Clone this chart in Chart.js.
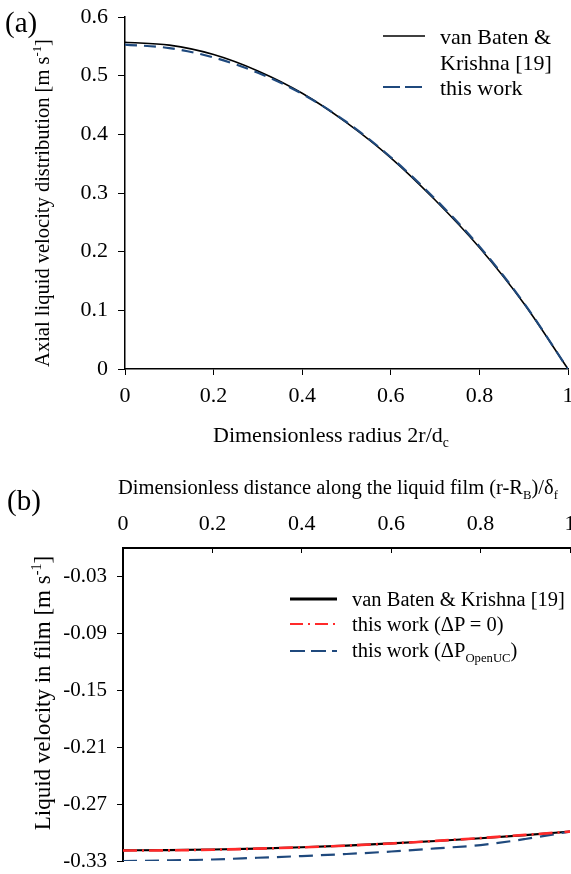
<!DOCTYPE html>
<html lang="en">
<head>
<meta charset="UTF-8">
<title>Liquid velocity profiles</title>
<script src="https://cdn.jsdelivr.net/npm/chart.js@4"></script>
<style>
  body { margin: 0; width: 571px; height: 874px; position: relative; background: #fff;
         font-family: 'Liberation Serif', 'Times New Roman', serif; color: #000; overflow: hidden; }
  canvas { position: absolute; left: 0; }
  .txt { position: absolute; white-space: nowrap; line-height: 1; }
  .rot { transform: translate(-50%, -50%) rotate(-90deg); }
  sub, sup { font-size: 0.62em; line-height: 0; }
  .leg { position: absolute; }
</style>
</head>
<body>
<canvas id="chartA" width="571" height="460" style="top:0"></canvas>
<canvas id="chartB" width="571" height="414" style="top:460px"></canvas>

<div class="txt" style="left:5px; top:8px; font-size:29px;">(a)</div>
<div class="txt rot" style="left:42px; top:203px; font-size:20.5px;">Axial liquid velocity distribution [m s<sup>-1</sup>]</div>
<div class="txt" style="left:213px; top:424px; font-size:22px;">Dimensionless radius 2r/d<sub>c</sub></div>

<svg class="leg" style="left:383px; top:28px" width="42" height="70">
  <line x1="0" y1="8" x2="42" y2="8" stroke="#000" stroke-width="1.6"/>
  <line x1="0" y1="59" x2="42" y2="59" stroke="#1F497D" stroke-width="2.2" stroke-dasharray="17,5"/>
</svg>
<div class="txt" style="left:440px; top:26px; font-size:22px;">van Baten &amp;</div>
<div class="txt" style="left:440px; top:52px; font-size:22px;">Krishna [19]</div>
<div class="txt" style="left:440px; top:77px; font-size:22px;">this work</div>

<div class="txt" style="left:7px; top:486px; font-size:29px;">(b)</div>
<div class="txt" style="left:118px; top:477px; font-size:20.5px;">Dimensionless distance along the liquid film (r-R<sub>B</sub>)/&delta;<sub>f</sub></div>
<div class="txt rot" style="left:42px; top:693px; font-size:23px;">Liquid velocity in film [m s<sup>-1</sup>]</div>

<svg class="leg" style="left:290px; top:590px" width="48" height="70">
  <line x1="0" y1="9" x2="47" y2="9" stroke="#000" stroke-width="3"/>
  <line x1="0" y1="34" x2="47" y2="34" stroke="#FF2A2A" stroke-width="2.2" stroke-dasharray="13,5,2,5"/>
  <line x1="0" y1="61" x2="47" y2="61" stroke="#1F497D" stroke-width="2.2" stroke-dasharray="15,6"/>
</svg>
<div class="txt" style="left:352px; top:589px; font-size:20.5px;">van Baten &amp; Krishna [19]</div>
<div class="txt" style="left:352px; top:614px; font-size:20.5px;">this work (&Delta;P = 0)</div>
<div class="txt" style="left:352px; top:640px; font-size:20.5px;">this work (&Delta;P<sub>OpenUC</sub>)</div>

<script>
// (a) axial velocity vs dimensionless radius
const radiusA = [0, 0.1, 0.2, 0.3, 0.4, 0.5, 0.6, 0.7, 0.8, 0.9, 1.0];
const vanBatenA = [0.557, 0.552, 0.536, 0.508, 0.470, 0.420, 0.360, 0.288, 0.207, 0.112, 0.0];
const thisWorkA = [0.553, 0.547, 0.531, 0.505, 0.469, 0.421, 0.361, 0.290, 0.209, 0.113, 0.0];
const xTicksA = [0, 0.2, 0.4, 0.6, 0.8, 1];
const yTicksA = [0, 0.1, 0.2, 0.3, 0.4, 0.5, 0.6];

// (b) film velocity vs dimensionless distance along film
const distB = [0, 0.1, 0.2, 0.3, 0.4, 0.5, 0.6, 0.7, 0.8, 0.9, 1.0];
const vanBatenB = [-0.3187, -0.3185, -0.3179, -0.3169, -0.3155, -0.3137, -0.3115, -0.3089, -0.3060, -0.3027, -0.2990];
const thisWorkDP0 = [-0.3190, -0.3188, -0.3181, -0.3170, -0.3156, -0.3138, -0.3115, -0.3088, -0.3058, -0.3025, -0.2990];
const thisWorkOpenUC = [-0.3300, -0.3294, -0.3284, -0.3266, -0.3248, -0.3226, -0.3200, -0.3167, -0.3132, -0.3068, -0.2990];
const xTicksB = [0, 0.2, 0.4, 0.6, 0.8, 1];
const yTicksB = [-0.33, -0.27, -0.21, -0.15, -0.09, -0.03];

const FONT = 'Liberation Serif';
const pts = (xs, ys) => xs.map((x, i) => ({ x: x, y: ys[i] }));
const fmt = v => String(Math.round(v * 100) / 100);

function lineSet(data, color, width, dash, order) {
    return {
        data: data, borderColor: color, borderWidth: width, borderDash: dash, order: order,
        pointRadius: 0, fill: false, cubicInterpolationMode: 'monotone'
    };
}

new Chart(document.getElementById('chartA'), {
    type: 'line',
    data: {
        datasets: [
            lineSet(pts(radiusA, vanBatenA), '#000', 1.6, [], 2),
            lineSet(pts(radiusA, thisWorkA), '#1F497D', 2.2, [12, 7], 1)
        ]
    },
    options: {
        responsive: false, animation: false,
        layout: { padding: { top: 17, right: 3, left: 0, bottom: 0 } },
        plugins: { legend: { display: false }, tooltip: { enabled: false } },
        scales: {
            x: {
                type: 'linear', min: 0, max: 1,
                afterBuildTicks: s => { s.ticks = xTicksA.map(v => ({ value: v })); },
                afterFit: s => { s.height = 91; s.paddingLeft = 0; s.paddingRight = 0; },
                ticks: { color: '#000', font: { family: FONT, size: 22 }, padding: 8, maxRotation: 0, callback: fmt },
                grid: { drawOnChartArea: false, drawTicks: true, tickLength: 6, color: '#000', tickWidth: 1 },
                border: { display: true, color: '#000', width: 1.5 }
            },
            y: {
                min: 0, max: 0.6,
                afterBuildTicks: s => { s.ticks = yTicksA.map(v => ({ value: v })); },
                afterFit: s => { s.width = 125; s.paddingTop = 0; s.paddingBottom = 0; },
                ticks: { color: '#000', font: { family: FONT, size: 22 }, padding: 10, callback: fmt },
                grid: { drawOnChartArea: false, drawTicks: true, tickLength: 7, color: '#000', tickWidth: 1 },
                border: { display: true, color: '#000', width: 1.5 }
            }
        }
    }
});

new Chart(document.getElementById('chartB'), {
    type: 'line',
    data: {
        datasets: [
            lineSet(pts(distB, vanBatenB), '#000', 2.2, [], 3),
            lineSet(pts(distB, thisWorkDP0), '#FF2A2A', 2.6, [14, 5, 2, 5], 1),
            lineSet(pts(distB, thisWorkOpenUC), '#1F497D', 2.2, [14, 8], 2)
        ]
    },
    options: {
        responsive: false, animation: false,
        layout: { padding: { top: 0, right: 1, left: 0, bottom: 13 } },
        plugins: { legend: { display: false }, tooltip: { enabled: false } },
        scales: {
            x: {
                type: 'linear', position: 'top', min: 0, max: 1,
                afterBuildTicks: s => { s.ticks = xTicksB.map(v => ({ value: v })); },
                afterFit: s => { s.height = 88; s.paddingLeft = 0; s.paddingRight = 0; },
                ticks: { color: '#000', font: { family: FONT, size: 22 }, padding: 16, maxRotation: 0, callback: fmt },
                grid: { drawOnChartArea: false, drawTicks: true, tickLength: -5, color: '#000', tickWidth: 1 },
                border: { display: true, color: '#000', width: 2 }
            },
            y: {
                min: -0.33, max: 0,
                afterBuildTicks: s => { s.ticks = yTicksB.map(v => ({ value: v })); },
                afterFit: s => { s.width = 123; s.paddingTop = 0; s.paddingBottom = 0; },
                ticks: { color: '#000', font: { family: FONT, size: 21 }, padding: 10, callback: fmt },
                grid: { drawOnChartArea: false, drawTicks: true, tickLength: 6, color: '#000', tickWidth: 1 },
                border: { display: true, color: '#000', width: 2 }
            }
        }
    }
});
</script>
</body>
</html>
